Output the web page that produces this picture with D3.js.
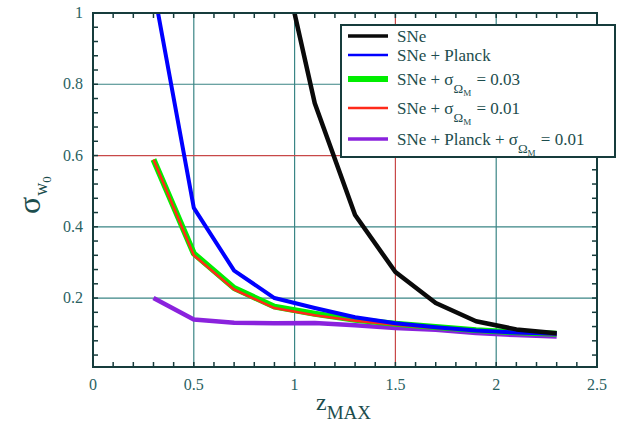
<!DOCTYPE html>
<html><head><meta charset="utf-8">
<script src="https://cdn.jsdelivr.net/npm/d3@7"></script>
<style>body{margin:0;background:#fff}svg{display:block}</style>
</head><body><svg id="c" width="621" height="429" font-family="'Liberation Serif', 'Times New Roman', Tinos, 'DejaVu Serif', serif"></svg>
<script>
const zGrid = [0.3,0.5,0.7,0.9,1.1,1.3,1.5,1.7,1.9,2.1,2.3];
const zSNe = [0.9,1.1,1.3,1.5,1.7,1.9,2.1,2.3];
const sigSNe = [1.25,0.747,0.433,0.273,0.186,0.135,0.112,0.101];
const sigPlanck = [1.07,0.453,0.277,0.2,0.172,0.146,0.129,0.118,0.109,0.103,0.1];
const sigOm03 = [0.589,0.325,0.228,0.176,0.156,0.139,0.128,0.119,0.11,0.104,0.1];
const sigOm01 = [0.589,0.32,0.224,0.172,0.152,0.136,0.125,0.116,0.108,0.102,0.098];
const sigPlanckOm01 = [0.2,0.14,0.131,0.129,0.13,0.124,0.116,0.111,0.102,0.096,0.092];
const xTicks = [0,0.5,1,1.5,2,2.5];
const yTicks = [0.2,0.4,0.6,0.8,1];
const xMinor = d3.range(0.1,2.5,0.1);
const yMinor = d3.range(0.04,1,0.04);

const svg = d3.select("#c");
const L=93,R=597,T=13,B=367;
const x = d3.scaleLinear().domain([0,2.5]).range([L,R]);
const y = d3.scaleLinear().domain([0.0065,1]).range([B,T]);
const gridCol = "#3a8585", redGrid="#c84848", frameCol="#163c3c", txtCol="#2a6262";

svg.append("clipPath").attr("id","cp").append("rect").attr("x",L).attr("y",T).attr("width",R-L).attr("height",B-T);

const g = svg.append("g");
g.selectAll(".gx").data(xTicks.slice(1,-1)).join("line")
  .attr("x1",d=>x(d)).attr("x2",d=>x(d)).attr("y1",T).attr("y2",B)
  .attr("stroke",d=>d===1.5?redGrid:gridCol).attr("stroke-width",1.2);
g.selectAll(".gy").data(yTicks.slice(0,-1)).join("line")
  .attr("y1",d=>y(d)).attr("y2",d=>y(d)).attr("x1",L).attr("x2",R)
  .attr("stroke",d=>d===0.6?redGrid:gridCol).attr("stroke-width",1.2);

const tl=5;
g.selectAll(".mxb").data(xMinor).join("line").attr("x1",d=>x(d)).attr("x2",d=>x(d)).attr("y1",B).attr("y2",B-tl).attr("stroke",frameCol).attr("stroke-width",1.5);
g.selectAll(".mxt").data(xMinor).join("line").attr("x1",d=>x(d)).attr("x2",d=>x(d)).attr("y1",T).attr("y2",T+tl).attr("stroke",frameCol).attr("stroke-width",1.5);
g.selectAll(".myl").data(yMinor).join("line").attr("y1",d=>y(d)).attr("y2",d=>y(d)).attr("x1",L).attr("x2",L+tl).attr("stroke",frameCol).attr("stroke-width",1.5);
g.selectAll(".myr").data(yMinor).join("line").attr("y1",d=>y(d)).attr("y2",d=>y(d)).attr("x1",R).attr("x2",R-tl).attr("stroke",frameCol).attr("stroke-width",1.5);

const lineG = svg.append("g").attr("clip-path","url(#cp)");
const mk = xs => d3.line().x((d,i)=>x(xs[i])).y(d=>y(d));
const series = [
  {name:"SNe", xs:zSNe, v:sigSNe, col:"#0a0a0a", w:4.5, lw:3.5},
  {name:"SNe + Planck", xs:zGrid, v:sigPlanck, col:"#0000ff", w:4, lw:2.5},
  {name:"SNe + σΩM = 0.03", xs:zGrid, v:sigOm03, col:"#00ee00", w:6, lw:6, sub:"0.03"},
  {name:"SNe + σΩM = 0.01", xs:zGrid, v:sigOm01, col:"#ff2a1a", w:2.5, lw:2.5, sub:"0.01"},
  {name:"SNe + Planck + σΩM = 0.01", xs:zGrid, v:sigPlanckOm01, col:"#8a22dd", w:4.5, lw:3.5, sub:"0.01"}
];
[4,2,3,1,0].forEach(i=>{
  const s=series[i];
  lineG.append("path").datum(s.v).attr("d",mk(s.xs)).attr("fill","none")
    .attr("stroke",s.col).attr("stroke-width",s.w).attr("stroke-linejoin","round");
});

svg.append("rect").attr("x",L).attr("y",T).attr("width",R-L).attr("height",B-T)
  .attr("fill","none").attr("stroke",frameCol).attr("stroke-width",2);

svg.selectAll(".xl").data(xTicks).join("text").attr("x",d=>x(d)).attr("y",B+23)
  .attr("text-anchor","middle").attr("font-size",16).attr("fill",txtCol).text(d=>d3.format("")(d));
svg.selectAll(".yl").data(yTicks).join("text").attr("x",L-10).attr("y",d=>y(d)+5)
  .attr("text-anchor","end").attr("font-size",16).attr("fill",txtCol).text(d=>d3.format("")(d));

const xt = svg.append("text").attr("x",316).attr("y",410).attr("fill","#1c4d4d");
xt.append("tspan").attr("font-size",24).text("z");
xt.append("tspan").attr("font-size",19).attr("dy",9).text("MAX");
const yt = svg.append("text").attr("transform","translate(40,214) rotate(-90)").attr("fill","#1c4d4d");
yt.append("tspan").attr("font-size",32).text("σ");
yt.append("tspan").attr("font-size",18).attr("dy",7).attr("dx",1).text("w");
yt.append("tspan").attr("font-size",13).attr("dy",4).text("0");

const lg = svg.append("g");
lg.append("rect").attr("x",341).attr("y",25).attr("width",274).attr("height",132)
  .attr("fill","#fff").attr("stroke",frameCol).attr("stroke-width",2);
const ly=[36,55,79,108,139];
series.forEach((s,i)=>{
  lg.append("line").attr("x1",348).attr("x2",388).attr("y1",ly[i]).attr("y2",ly[i])
    .attr("stroke",s.col).attr("stroke-width",s.lw);
  const t = lg.append("text").attr("x",397).attr("y",ly[i]+6).attr("font-size",17).attr("fill","#1c4d4d");
  if(!s.sub){ t.text(s.name); }
  else {
    const pre = i===4 ? "SNe + Planck + " : "SNe + ";
    t.append("tspan").text(pre+"σ");
    t.append("tspan").attr("font-size",13).attr("dy",8).text("Ω");
    t.append("tspan").attr("font-size",9).attr("dy",3).text("M");
    t.append("tspan").attr("dy",-11).attr("dx",1).text(" = "+s.sub);
  }
});
</script></body></html>
